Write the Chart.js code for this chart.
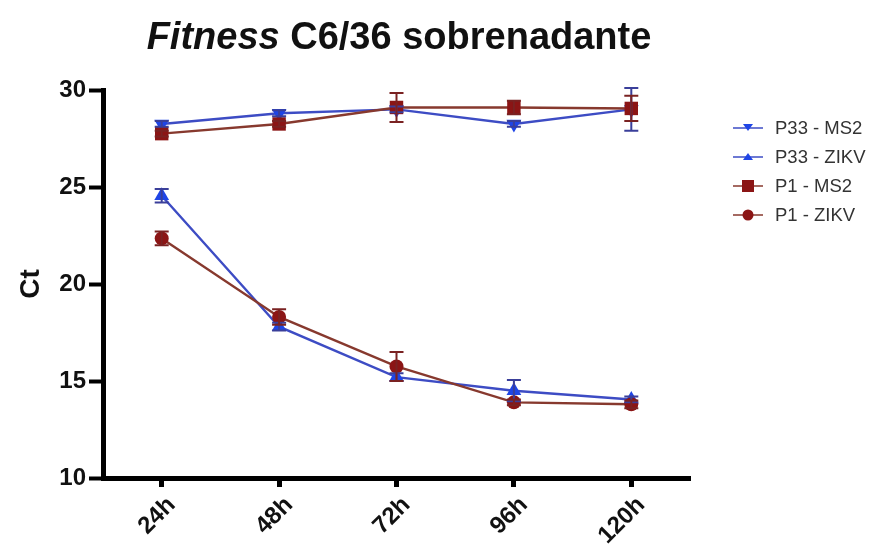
<!DOCTYPE html>
<html>
<head>
<meta charset="utf-8">
<script src="https://cdn.jsdelivr.net/npm/chart.js@4.4.1/dist/chart.umd.min.js"></script>
<style>
  html, body { margin: 0; padding: 0; background: #fff; }
  #wrap { position: relative; width: 871px; height: 553px; }
  #title {
    position: absolute; left: 0; top: 15px; width: 798px; text-align: center;
    font: bold 38px 'Liberation Sans', Arial, sans-serif; color: #111; line-height: 42px;
  }
  #legend { position: absolute; left: 733px; top: 113px; font: 18.5px 'Liberation Sans', Arial, sans-serif; color: #333; }
  .row { display: flex; align-items: center; height: 29px; }
  .row svg { margin-right: 12px; }
</style>
</head>
<body>
<div id="wrap">
  <canvas id="c"></canvas>
  <div id="title"><i>Fitness</i> C6/36 sobrenadante</div>
  <div id="legend"></div>
</div>
<script>
// Ct over time, C6/36 supernatant.
const FONT = "'Liberation Sans', Arial, sans-serif";

const times = ['24h', '48h', '72h', '96h', '120h'];

const p33Ms2 = [28.25, 28.8, 29.0, 28.25, 29.0];
const p33Ms2Err = [0.15, 0.15, 0.15, 0.15, 1.1];
const p33Zikv = [24.55, 17.8, 15.2, 14.5, 14.05];
const p33ZikvErr = [0.35, 0.2, 0.2, 0.55, 0.15];
const p1Ms2 = [27.75, 28.25, 29.1, 29.1, 29.05];
const p1Ms2Err = [0.15, 0.15, 0.75, 0.35, 0.65];
const p1Zikv = [22.35, 18.3, 15.75, 13.9, 13.8];
const p1ZikvErr = [0.35, 0.4, 0.75, 0.15, 0.2];

const BLUE = '#1f45e6', BLUE_LINE = '#3d4cc4', BLUE_ERR = '#3a3f9a';
const RED = '#8b1515', RED_LINE = '#87392e', RED_ERR = '#7a2222';

const series = [
  { label: 'P33 - MS2', data: p33Ms2, err: p33Ms2Err, color: BLUE, line: BLUE_LINE, errColor: BLUE_ERR, style: 'triangle', rot: 180, order: 1 },
  { label: 'P33 - ZIKV', data: p33Zikv, err: p33ZikvErr, color: BLUE, line: BLUE_LINE, errColor: BLUE_ERR, style: 'triangle', rot: 0, order: 1 },
  { label: 'P1 - MS2', data: p1Ms2, err: p1Ms2Err, color: RED, line: RED_LINE, errColor: RED_ERR, style: 'rect', rot: 0, order: 0 },
  { label: 'P1 - ZIKV', data: p1Zikv, err: p1ZikvErr, color: RED, line: RED_LINE, errColor: RED_ERR, style: 'circle', rot: 0, order: 0 },
];
const RADIUS = { triangle: 8.5, rect: 9.5, circle: 7 };

// vertical whiskers with caps, drawn through the y scale
const errorBars = {
  id: 'errorBars',
  afterDatasetsDraw(chart) {
    const { ctx } = chart;
    const y = chart.scales.y;
    chart.data.datasets.forEach((ds, di) => {
      const meta = chart.getDatasetMeta(di);
      ctx.save();
      ctx.strokeStyle = ds.errColor;
      ctx.lineWidth = 2;
      meta.data.forEach((pt, i) => {
        const v = ds.data[i], e = ds.err[i];
        const top = y.getPixelForValue(v + e), bot = y.getPixelForValue(v - e);
        ctx.beginPath();
        ctx.moveTo(pt.x, top); ctx.lineTo(pt.x, bot);
        ctx.moveTo(pt.x - 7, top); ctx.lineTo(pt.x + 7, top);
        ctx.moveTo(pt.x - 7, bot); ctx.lineTo(pt.x + 7, bot);
        ctx.stroke();
      });
      ctx.restore();
    });
  },
};

new Chart(document.getElementById('c'), {
  type: 'line',
  data: {
    labels: times,
    datasets: series.map((s) => ({
      label: s.label,
      data: s.data,
      err: s.err,
      errColor: s.errColor,
      borderColor: s.line,
      backgroundColor: s.color,
      borderWidth: 2.4,
      pointStyle: s.style,
      rotation: s.rot,
      pointRadius: RADIUS[s.style],
      pointBorderWidth: 0,
      pointBackgroundColor: s.color,
      tension: 0,
      order: s.order,
      clip: false,
    })),
  },
  options: {
    responsive: true,
    maintainAspectRatio: false,
    animation: false,
    layout: { padding: { top: 90, right: 181, left: 14, bottom: 0 } },
    plugins: { legend: { display: false }, tooltip: { enabled: false } },
    scales: {
      x: {
        type: 'category',
        offset: true,
        afterFit: (s) => { s.height = 75; },
        grid: { display: true, drawOnChartArea: false, drawTicks: true, tickLength: 9, tickWidth: 5, tickColor: '#000', offset: false },
        border: { display: true, width: 5, color: '#000' },
        ticks: { minRotation: 45, maxRotation: 45, color: '#111', padding: 4, labelOffset: 10, font: { family: FONT, size: 24, weight: 'bold' } },
      },
      y: {
        min: 10,
        max: 30,
        afterFit: (s) => { s.width = 89; },
        title: { display: true, text: 'Ct', color: '#111', padding: 0, font: { family: FONT, size: 28, weight: 'bold' } },
        grid: { display: true, drawOnChartArea: false, drawTicks: true, tickLength: 14, tickWidth: 4, tickColor: '#000' },
        border: { display: true, width: 5, color: '#000' },
        ticks: { stepSize: 5, color: '#111', padding: 3, font: { family: FONT, size: 24, weight: 'bold' } },
      },
    },
  },
  plugins: [errorBars],
});

// legend: short line with the marker in the middle
const legend = document.getElementById('legend');
series.forEach((s) => {
  let mark;
  if (s.style === 'rect') mark = `<rect x="9" y="3" width="12" height="12" fill="${s.color}"/>`;
  else if (s.style === 'circle') mark = `<circle cx="15" cy="9" r="5.5" fill="${s.color}"/>`;
  else if (s.rot === 180) mark = `<polygon points="10,5 20,5 15,12" fill="${s.color}"/>`;
  else mark = `<polygon points="10,12 20,12 15,5" fill="${s.color}"/>`;
  const row = document.createElement('div');
  row.className = 'row';
  row.innerHTML = `<svg width="30" height="18"><line x1="0" y1="9" x2="30" y2="9" stroke="${s.line}" stroke-width="1.5"/>${mark}</svg><span>${s.label}</span>`;
  legend.appendChild(row);
});
</script>
</body>
</html>
